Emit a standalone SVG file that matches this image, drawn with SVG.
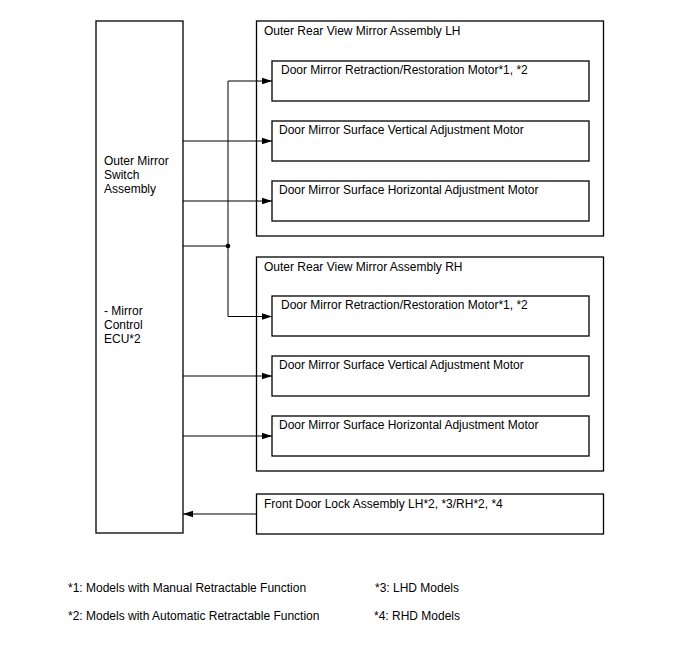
<svg xmlns="http://www.w3.org/2000/svg" width="688" height="658" viewBox="0 0 688 658">
<style>
.box{fill:#fff;stroke:#000;stroke-width:1.3}
.ln{fill:none;stroke:#000;stroke-width:1}
text{font-family:"Liberation Sans",Arial,sans-serif;font-size:12px;fill:#000}
</style>
<defs>
<marker id="ah" viewBox="0 0 10 8" refX="10" refY="4" markerWidth="10" markerHeight="8" markerUnits="userSpaceOnUse" orient="auto">
<path d="M0,0.8 L10,4 L0,7.2 Z" fill="#000"/>
</marker>
</defs>
<rect width="688" height="658" fill="#fff"/>
<g id="ecu">
<rect class="box" x="96" y="21" width="87" height="512"/>
<text x="104" y="165">Outer Mirror</text>
<text x="104" y="179">Switch</text>
<text x="104" y="193">Assembly</text>
<text x="104" y="315">- Mirror</text>
<text x="104" y="329">Control</text>
<text x="104" y="343">ECU*2</text>
</g>
<g id="lh">
<rect class="box" x="256.5" y="21" width="347" height="215"/>
<text x="264" y="35">Outer Rear View Mirror Assembly LH</text>
</g>
<g id="lh-retract">
<rect class="box" x="272" y="61" width="317" height="40"/>
<text x="281" y="74">Door Mirror Retraction/Restoration Motor*1, *2</text>
</g>
<g id="lh-vert">
<rect class="box" x="272" y="121" width="317" height="40"/>
<text x="279" y="134">Door Mirror Surface Vertical Adjustment Motor</text>
</g>
<g id="lh-horiz">
<rect class="box" x="272" y="181" width="317" height="40"/>
<text x="279" y="194">Door Mirror Surface Horizontal Adjustment Motor</text>
</g>
<g id="rh">
<rect class="box" x="256.5" y="257" width="347" height="214"/>
<text x="264" y="271">Outer Rear View Mirror Assembly RH</text>
</g>
<g id="rh-retract">
<rect class="box" x="272" y="296" width="317" height="40"/>
<text x="281" y="309">Door Mirror Retraction/Restoration Motor*1, *2</text>
</g>
<g id="rh-vert">
<rect class="box" x="272" y="356" width="317" height="40"/>
<text x="279" y="369">Door Mirror Surface Vertical Adjustment Motor</text>
</g>
<g id="rh-horiz">
<rect class="box" x="272" y="416" width="317" height="40"/>
<text x="279" y="429">Door Mirror Surface Horizontal Adjustment Motor</text>
</g>
<g id="doorlock">
<rect class="box" x="256.5" y="494" width="347" height="40"/>
<text x="264" y="508">Front Door Lock Assembly LH*2, *3/RH*2, *4</text>
</g>
<g id="connectors">
<path class="ln" d="M183,246 H228"/>
<path class="ln" d="M228,81 V316.5"/>
<circle cx="228" cy="246" r="2.3" fill="#000"/>
<path class="ln" d="M228,81 H272" marker-end="url(#ah)"/>
<path class="ln" d="M228,316.5 H272" marker-end="url(#ah)"/>
<path class="ln" d="M183,141 H272" marker-end="url(#ah)"/>
<path class="ln" d="M183,201 H272" marker-end="url(#ah)"/>
<path class="ln" d="M183,376 H272" marker-end="url(#ah)"/>
<path class="ln" d="M183,436 H272" marker-end="url(#ah)"/>
<path class="ln" d="M256.5,514 H183" marker-end="url(#ah)"/>
</g>
<g id="notes">
<text x="68" y="592">*1: Models with Manual Retractable Function</text>
<text x="68" y="620">*2: Models with Automatic Retractable Function</text>
<text x="375" y="592">*3: LHD Models</text>
<text x="374" y="620">*4: RHD Models</text>
</g>
</svg>
